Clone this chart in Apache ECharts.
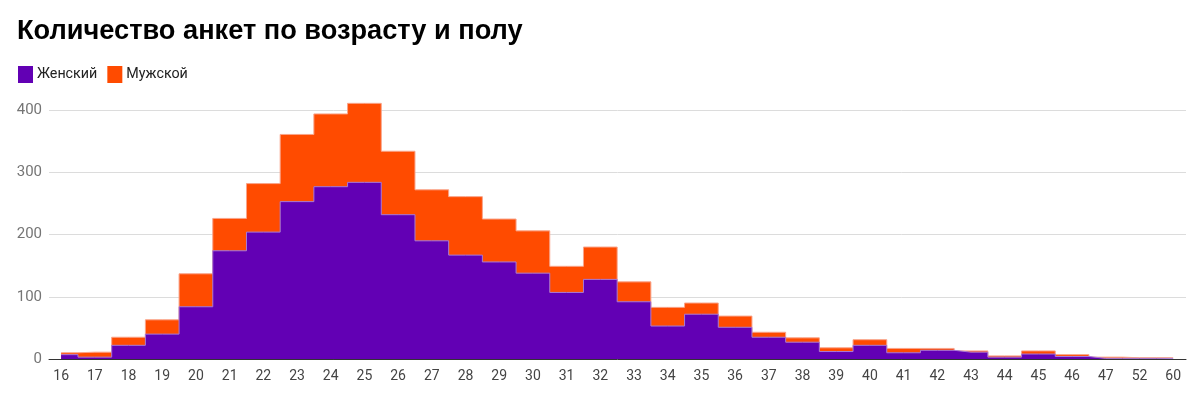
<!DOCTYPE html>
<html>
<head>
<meta charset="utf-8">
<script src="https://cdn.jsdelivr.net/npm/echarts@6/dist/echarts.min.js"></script>
<style>html,body{margin:0;padding:0;background:#fff}#c{width:1200px;height:396px}</style>
</head>
<body>
<div id="c"></div>
<script>
var ages = ['16','17','18','19','20','21','22','23','24','25','26','27','28','29','30','31','32','33','34','35','36','37','38','39','40','41','42','43','44','45','46','47','52','60'];
var female = [7,3,22,40,84,174,204,253,277,284,232,190,167,156,138,107,128,92,53,72,51,35,27,12,22,10,14,11,3,8,4,1,1,1];
var male   = [3,8,13,23,53,52,78,108,117,127,102,82,94,69,68,42,52,32,30,18,18,8,7,6,9,7,3,2,2,5,3,2,1,1];
var yTicks = [0,100,200,300,400];

var idx = ages.map(function(a,i){ return i; });
var femalePts = female.map(function(v,i){ return [i, v]; });
var totalPts = male.map(function(v,i){ return [i, v + female[i]]; });

var chart = echarts.init(document.getElementById('c'), null, {renderer:'canvas'});
chart.setOption({
  animation:false,
  backgroundColor:'#fff',
  title:{
    text:'Количество анкет по возрасту и полу',
    left:12, top:13,
    textStyle:{fontFamily:'Liberation Sans, Arial', fontSize:27.2, fontWeight:'bold', color:'#000'}
  },
  legend:{
    left:13, top:61, itemWidth:15, itemHeight:17, itemGap:10, icon:'rect',
    textStyle:{fontFamily:'Roboto', fontSize:14.3, color:'#222', padding:[0,0,0,-1]},
    data:[{name:'Женский', itemStyle:{color:'#6200b4'}},{name:'Мужской', itemStyle:{color:'#ff4b00'}}]
  },
  grid:{left:49, right:14, top:97.75, bottom:37, containLabel:false},
  xAxis:{
    type:'value', min:-0.36, max:33.38,
    splitLine:{show:false},
    axisLine:{show:true, onZero:true, lineStyle:{color:'#333', width:1}},
    axisTick:{show:false},
    axisLabel:{customValues:idx, formatter:function(v){ return ages[Math.round(v)]; },
      fontFamily:'Roboto', fontSize:14, color:'#444', margin:10}
  },
  yAxis:{
    type:'value', min:0, max:420,
    axisLine:{show:false},
    axisTick:{show:false, customValues:yTicks},
    splitLine:{lineStyle:{color:'#dcdcdc', width:1}},
    axisLabel:{customValues:yTicks, fontFamily:'Roboto', fontSize:15, color:'#757575', margin:7}
  },
  series:[
    {name:'Мужской', type:'line', step:'middle', symbol:'none', data:totalPts, z:2,
      itemStyle:{color:'#ff4b00'},
      lineStyle:{color:'#f9a48a', width:1},
      areaStyle:{color:'#ff4b00', opacity:1}},
    {name:'Женский', type:'line', step:'middle', symbol:'none', data:femalePts, z:3,
      itemStyle:{color:'#6200b4'},
      lineStyle:{color:'#a77bd6', width:1},
      areaStyle:{color:'#6200b4', opacity:1}}
  ]
});
</script>
</body>
</html>
